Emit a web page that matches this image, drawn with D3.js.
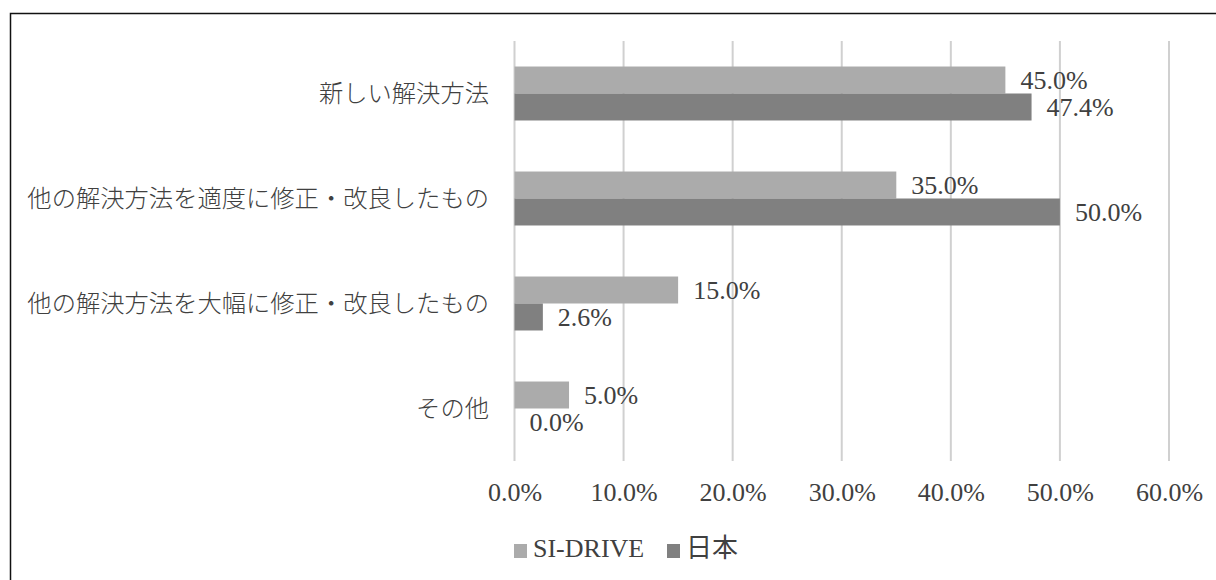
<html>
<head>
<meta charset="utf-8">
<script src="https://d3js.org/d3.v7.min.js"></script>
<style>
body { margin: 0; background: #fff; }
</style>
</head>
<body>
<div id="canvas"></div>
<script>

var width = 1216;
var height = 580;

var categories = ["新しい解決方法", "他の解決方法を適度に修正・改良したもの", "他の解決方法を大幅に修正・改良したもの", "その他"];
var seriesNames = ["SI-DRIVE", "日本"];
var siDrive = [45.0, 35.0, 15.0, 5.0];
var japan = [47.4, 50.0, 2.6, 0.0];
var ticks = [0, 10, 20, 30, 40, 50, 60];
var colors = ["#ababab", "#808080"];

var font = "'Liberation Serif', 'Noto Sans CJK JP', serif";

var svg = d3.select("#canvas").append("svg").attr("width", width).attr("height", height);

// frame
svg.append("rect")
    .attr("x", 10.5).attr("y", 13.5)
    .attr("width", 1300).attr("height", 700)
    .attr("fill", "none").attr("stroke", "#111").attr("stroke-width", 1.5);

var x = d3.scaleLinear().domain([0, 60]).range([514.5, 1169]);
var y = d3.scaleBand().domain(categories).range([41, 461]).paddingInner(0.486).paddingOuter(0.243);
var sub = d3.scaleBand().domain(seriesNames).range([0, y.bandwidth()]);

// gridlines
svg.selectAll(".grid").data(ticks).enter().append("line")
    .attr("x1", function(d) { return x(d); })
    .attr("x2", function(d) { return x(d); })
    .attr("y1", 41).attr("y2", 461)
    .attr("stroke", "#d0d0d0").attr("stroke-width", 2);

// tick labels
var xAxis = d3.axisBottom(x).tickValues(ticks).tickSize(0).tickPadding(0)
    .tickFormat(function(d) { return d.toFixed(1) + "%"; });
var gx = svg.append("g").attr("transform", "translate(0,492)").call(xAxis);
gx.select(".domain").remove();
gx.selectAll("text").attr("font-family", font).attr("font-size", 26).attr("fill", "#404040").attr("dy", "0.34em");

// category labels
svg.selectAll(".cat").data(categories).enter().append("text")
    .attr("x", 489)
    .attr("y", function(d) { return y(d) + y.bandwidth() / 2; })
    .attr("dy", "0.36em")
    .attr("text-anchor", "end")
    .attr("font-family", "'Noto Sans CJK JP', sans-serif").attr("font-size", 24.3).attr("font-weight", 300).attr("fill", "#404040")
    .text(function(d) { return d; });

var series = [siDrive, japan];
series.forEach(function(vals, si) {
    var g = svg.append("g");
    g.selectAll("rect").data(vals).enter().append("rect")
        .attr("x", x(0))
        .attr("y", function(d, i) { return y(categories[i]) + sub(seriesNames[si]); })
        .attr("width", function(d) { return x(d) - x(0); })
        .attr("height", sub.bandwidth())
        .attr("fill", colors[si]);
    g.selectAll("text").data(vals).enter().append("text")
        .attr("x", function(d) { return x(d) + 15; })
        .attr("y", function(d, i) { return y(categories[i]) + sub(seriesNames[si]) + sub.bandwidth() / 2; })
        .attr("dy", "0.34em")
        .attr("font-family", font).attr("font-size", 26).attr("fill", "#404040")
        .text(function(d) { return d.toFixed(1) + "%"; });
});

// legend
var legendX = [514, 667];
seriesNames.forEach(function(name, i) {
    svg.append("rect")
        .attr("x", legendX[i]).attr("y", 544)
        .attr("width", 13).attr("height", 14)
        .attr("fill", colors[i]);
    svg.append("text")
        .attr("x", legendX[i] + 19).attr("y", 548)
        .attr("dy", "0.34em")
        .attr("font-family", font).attr("font-size", 26).attr("fill", "#404040")
        .text(name);
});

</script>
</body>
</html>
